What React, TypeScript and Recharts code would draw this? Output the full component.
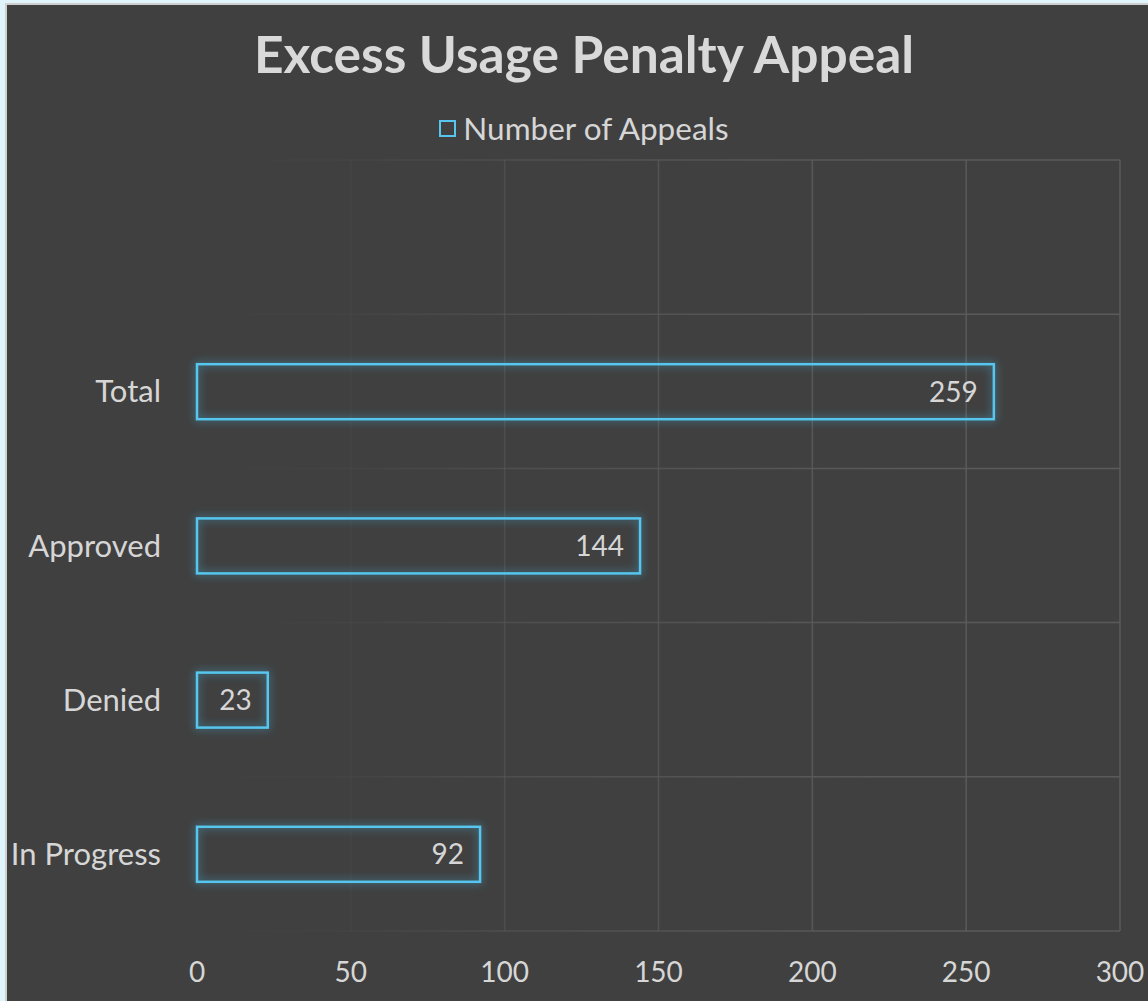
import React from 'react';
import { BarChart, Bar, XAxis, YAxis, CartesianGrid, LabelList, Legend } from 'recharts';

const categories = ['', 'Total', 'Approved', 'Denied', 'In Progress'];
const appeals: (number | null)[] = [null, 259, 144, 23, 92];
const xTicks = [0, 50, 100, 150, 200, 250, 300];
const bandEdges = [0, 1, 2, 3, 4, 5];
const chartTitle = 'Excess Usage Penalty Appeal';
const seriesName = 'Number of Appeals';

const data = categories.map((c, i) => ({ category: c, appeals: appeals[i], pos: i + 0.5 }));

const FONT = 'Lato, "Open Sans", sans-serif';
const TEXT = '#d6d6d6';
const BAR = '#56c6ee';

const GlowBar = (props: any) => {
  const { x, y, width, height } = props;
  if (!width || width <= 0 || height == null) return null;
  return (
    <rect
      x={x}
      y={y}
      width={width}
      height={height}
      fill="none"
      stroke={BAR}
      strokeWidth={2.5}
      filter="url(#barGlow)"
    />
  );
};

const LegendContent = (props: any) => {
  const { payload = [] } = props;
  return (
    <div style={{ display: 'flex', justifyContent: 'center', alignItems: 'center', fontFamily: FONT }}>
      {payload.map((p: any) => (
        <div key={p.value} style={{ display: 'flex', alignItems: 'center' }}>
          <span
            style={{
              display: 'inline-block',
              width: 13,
              height: 13,
              border: `2px solid ${BAR}`,
              marginRight: 7,
            }}
          />
          <span style={{ color: TEXT, fontSize: 31.5, lineHeight: '34px' }}>{p.value}</span>
        </div>
      ))}
    </div>
  );
};

export default function App() {
  return (
    <div style={{ position: 'fixed', left: 0, top: 0, width: 1148, height: 1001, overflow: 'hidden', background: '#dff4fb' }}>
      <div
        style={{
          position: 'absolute',
          left: 5,
          top: 3,
          width: 1200,
          height: 1100,
          border: '2px solid #cfcfcf',
          background: '#404040',
        }}
      />
      <div
        style={{
          position: 'absolute',
          left: 0,
          top: 28,
          width: 1168,
          textAlign: 'center',
          fontFamily: FONT,
          fontWeight: 700,
          fontSize: 51.5,
          lineHeight: '51px',
          color: '#d9d9d9',
        }}
      >
        {chartTitle}
      </div>
      <div style={{ position: 'absolute', left: 0, top: 0 }}>
        <BarChart
          width={1148}
          height={1001}
          data={data}
          layout="vertical"
          margin={{ top: 160, right: 28, bottom: 0, left: 0 }}
        >
          <defs>
            <linearGradient id="gridFade" gradientUnits="userSpaceOnUse" x1="197" y1="0" x2="900" y2="0">
              <stop offset="0" stopColor="#5a5a5a" stopOpacity={0} />
              <stop offset="0.2" stopColor="#5a5a5a" stopOpacity={0.12} />
              <stop offset="0.45" stopColor="#5a5a5a" stopOpacity={0.55} />
              <stop offset="1" stopColor="#5a5a5a" stopOpacity={1} />
            </linearGradient>
            <filter id="barGlow" filterUnits="userSpaceOnUse" x="0" y="0" width="1148" height="1001">
              <feGaussianBlur in="SourceAlpha" stdDeviation="4.5" result="blur" />
              <feFlood floodColor="#3fb0d8" floodOpacity="0.8" result="color" />
              <feComposite in="color" in2="blur" operator="in" result="glow" />
              <feMerge>
                <feMergeNode in="glow" />
                <feMergeNode in="SourceGraphic" />
              </feMerge>
            </filter>
          </defs>
          <CartesianGrid yAxisId="grid" stroke="url(#gridFade)" strokeWidth={1.5} />
          <XAxis
            type="number"
            domain={[0, 300]}
            ticks={xTicks}
            axisLine={false}
            tickLine={false}
            height={70}
            tickMargin={25}
            tick={{ fill: TEXT, fontSize: 28, fontFamily: FONT }}
            interval={0}
          />
          <YAxis
            type="category"
            dataKey="category"
            width={197}
            axisLine={false}
            tickLine={false}
            tickMargin={30}
            tick={{ fill: TEXT, fontSize: 31, fontFamily: FONT }}
            interval={0}
          />
          <YAxis yAxisId="grid" type="number" dataKey="pos" domain={[0, 5]} ticks={bandEdges} hide />
          <Legend
            layout="horizontal"
            verticalAlign="middle"
            align="center"
            content={<LegendContent />}
            wrapperStyle={{ position: 'absolute', top: 111, left: 0, width: 1168, height: 34 }}
          />
          <Bar
            dataKey="appeals"
            name={seriesName}
            barSize={55}
            fill="none"
            stroke={BAR}
            shape={<GlowBar />}
            isAnimationActive={false}
          >
            <LabelList
              dataKey="appeals"
              position="insideRight"
              offset={16}
              fill={TEXT}
              fontSize={28}
              fontFamily={FONT}
            />
          </Bar>
        </BarChart>
      </div>
    </div>
  );
}
